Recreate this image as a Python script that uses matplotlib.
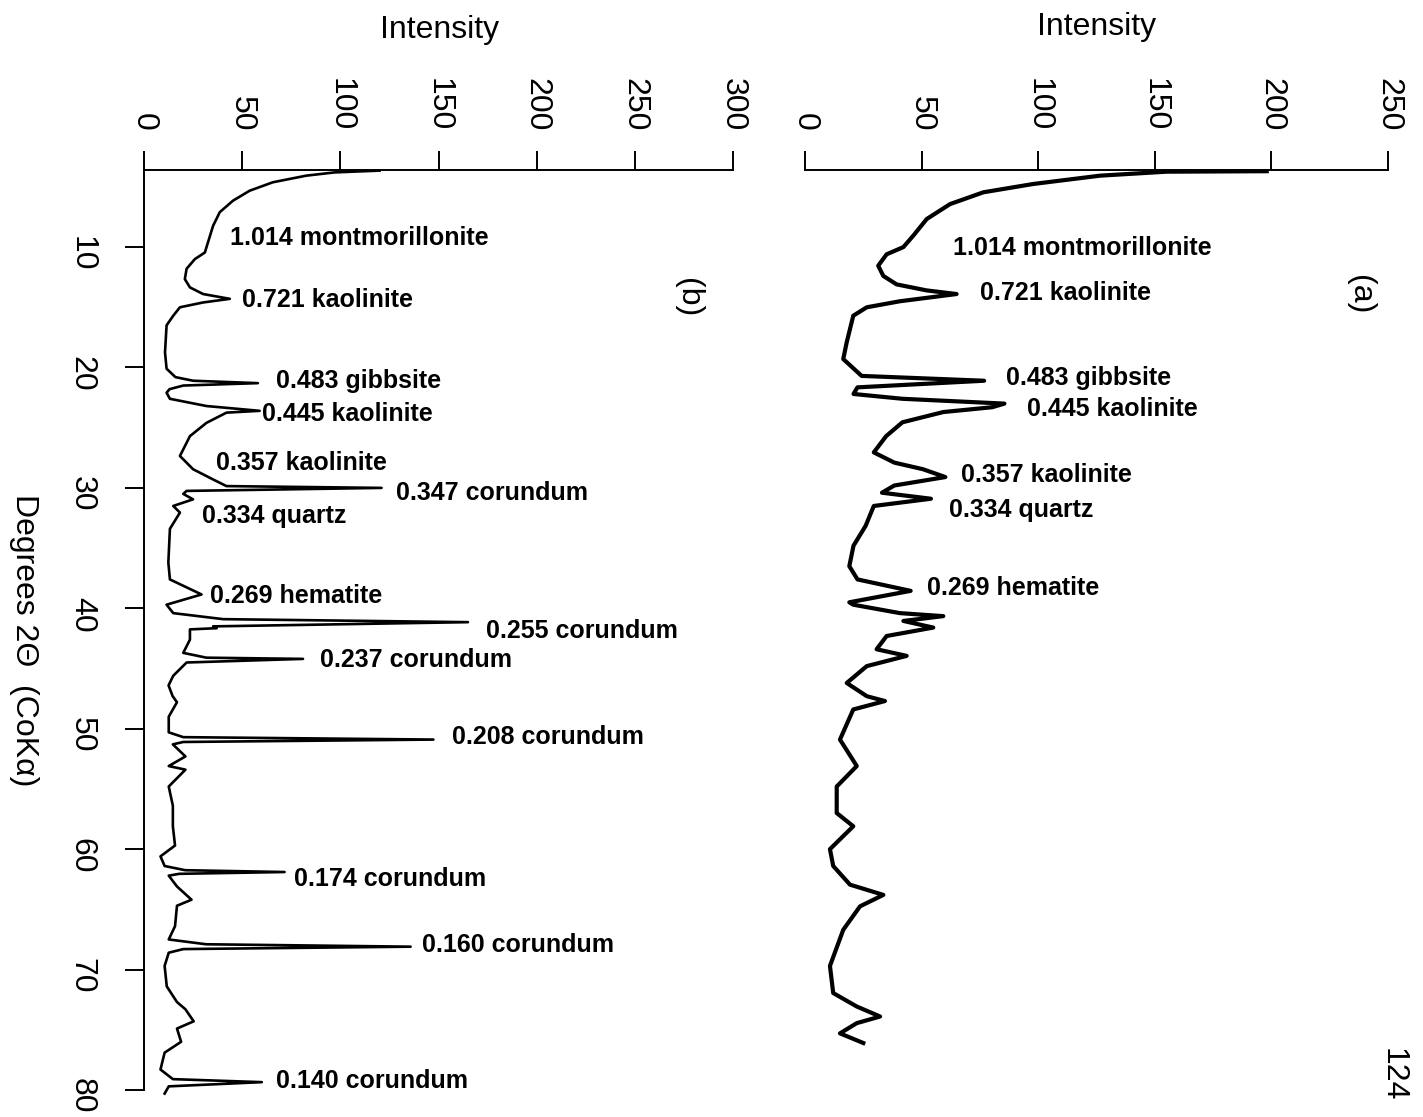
import matplotlib
matplotlib.use("Agg")
import matplotlib.pyplot as plt

plt.rcParams['font.family'] = ['Liberation Sans', 'DejaVu Sans']

# pattern (b): degrees 2-theta and intensity
deg_b = [3.65, 3.8, 4.07, 4.62, 5.32, 6.15, 7.1, 8.23, 9.6, 10.45, 11.0, 11.8, 12.66, 13.35,
         13.9, 14.3, 14.6, 15.0, 15.7, 16.5, 18.75, 20.1, 20.8, 21.1, 21.3, 21.5, 21.8,
         22.1, 22.6, 23.2, 23.6, 23.75, 24.6, 25.7, 27.35, 28.45, 29.3, 29.85, 30.0, 30.25,
         30.5, 30.95, 31.5, 32.05, 33.4, 36.2, 37.6, 38.85, 39.7, 40.4, 40.9, 41.15, 41.5,
         41.65, 41.75, 42.6, 43.7, 44.1, 44.2, 44.5, 45.6, 46.4, 47.3, 47.8, 49.0, 50.3,
         50.7, 50.9, 51.1, 51.3, 52.3, 53.1, 53.4, 54.8, 56.4, 58.1, 59.7, 60.6, 61.4,
         61.75, 61.9, 62.05, 62.2, 63.1, 64.2, 64.7, 66.4, 67.5, 67.9, 68.1, 68.3, 68.6,
         69.7, 71.4, 72.7, 73.3, 74.3, 74.9, 76.0, 76.9, 78.3, 79.1, 79.35, 79.7, 80.3]
int_b = [120, 97, 82.6, 65.6, 53.8, 45.3, 38.6, 35.2, 32.6, 31.0, 25.9, 21.7, 20.8, 23.4,
         30.1, 43.7, 30.1, 18.3, 14.9, 11.5, 10.7, 11.5, 16.0, 25.0, 58.0, 20.0, 13.0,
         11.5, 13.2, 31.8, 58.9, 42.0, 31.8, 23.4, 18.3, 25.0, 35.2, 42.0, 121.0, 21.7,
         20.0, 25.0, 14.9, 18.3, 13.2, 12.4, 13.2, 29.3, 11.5, 14.9, 40.3, 165.0, 35.2,
         37.0, 23.4, 23.4, 20.0, 31.8, 81.0, 21.7, 14.9, 12.5, 14.6, 16.8, 12.6, 12.6,
         20.0, 147.4, 20.0, 14.7, 21.1, 12.6, 21.1, 12.6, 14.7, 14.7, 15.8, 8.4, 10.5,
         21.0, 71.6, 18.0, 12.6, 16.8, 24.2, 16.8, 15.8, 12.6, 31.6, 135.8, 20.0, 12.6,
         10.5, 11.6, 16.8, 21.1, 25.3, 16.8, 18.9, 10.5, 8.4, 14.7, 60.0, 12.6, 10.5]

# pattern (a)
deg_a = [3.7, 3.74, 4.07, 4.76, 5.45, 6.43, 7.67, 9.06, 10.0, 10.6, 11.55, 12.4, 13.1, 13.6,
         13.9, 14.5, 15.0, 15.7, 17.9, 19.3, 20.7, 21.1, 21.65, 22.2, 22.6, 23.0, 23.3,
         23.7, 24.55, 25.7, 27.05, 27.9, 28.45, 29.1, 29.8, 30.4, 30.9, 31.5, 33.15, 34.8,
         36.5, 37.6, 38.55, 39.5, 39.7, 40.4, 40.65, 41.05, 41.6, 42.3, 43.4, 43.95, 44.8,
         46.2, 47.3, 47.7, 48.4, 50.9, 53.1, 54.8, 57.0, 58.1, 60.0, 61.4, 62.95, 63.8,
         64.75, 66.7, 69.7, 71.95, 73.07, 73.9, 74.45, 75.3, 76.1]
int_a = [198, 155, 126.5, 97.9, 76.5, 62.2, 52.2, 46.4, 42.2, 35.0, 31.4, 33.6, 39.3, 52.2,
         65.0, 40.7, 26.5, 20.7, 17.9, 16.4, 24.3, 76.8, 22.5, 20.8, 41.8, 85.5, 80.3,
         59.3, 41.8, 34.8, 29.5, 38.3, 50.6, 60.2, 38.3, 33.0, 54.0, 29.5, 26.0, 20.8,
         19.0, 22.5, 45.3, 19.0, 20.7, 40.7, 59.3, 42.2, 55.0, 35.0, 30.7, 43.6, 26.5,
         17.9, 26.5, 34.3, 20.7, 15.0, 22.2, 13.6, 13.6, 20.7, 10.7, 12.1, 19.3, 33.6,
         23.6, 16.4, 10.7, 12.1, 22.2, 32.2, 22.2, 15.0, 25.0]

labels_b = ["1.014 montmorillonite", "0.721 kaolinite", "0.483 gibbsite", "0.445 kaolinite",
            "0.357 kaolinite", "0.347 corundum", "0.334 quartz", "0.269 hematite",
            "0.255 corundum", "0.237 corundum", "0.208 corundum", "0.174 corundum",
            "0.160 corundum", "0.140 corundum"]
labels_a = ["1.014 montmorillonite", "0.721 kaolinite", "0.483 gibbsite", "0.445 kaolinite",
            "0.357 kaolinite", "0.334 quartz", "0.269 hematite"]

# where the labels sit (intensity, degrees)
pos_b = [(44, 9.25), (50, 14.4), (67, 21.1), (60, 23.9), (36.5, 27.9), (128.5, 30.45),
         (29.5, 32.35), (33.5, 39.0), (174, 41.85), (89.5, 44.3), (157, 50.7),
         (76.5, 62.5), (141.5, 68.0), (67, 79.25)]
pos_a = [(63.5, 10.1), (75, 13.8), (86.2, 20.9), (95.2, 23.45), (66.9, 28.95),
         (61.7, 31.85), (52.3, 38.35)]

fig = plt.figure(figsize=(14.23, 11.17), dpi=100)
ax_b = fig.add_axes([144 / 1423, 0.0242, 589 / 1423, 0.8236])
ax_a = fig.add_axes([805 / 1423, 0.0242, 583 / 1423, 0.8236])

ax_b.plot(int_b, deg_b, color='black', lw=1.9, clip_on=False)
ax_a.plot(int_a, deg_a, color='black', lw=3.0, clip_on=False)

for ax, xmax in [(ax_b, 300), (ax_a, 250)]:
    ax.set_xlim(0, xmax)
    ax.set_ylim(80, 3.6)
    ax.xaxis.tick_top()
    ax.set_xticks(range(0, xmax + 1, 50))
    ax.tick_params(axis='x', direction='out', length=14, width=1.4, pad=14,
                   labelsize=23, labelrotation=-90)
    ax.spines['right'].set_visible(False)
    ax.spines['bottom'].set_visible(False)
    ax.spines['top'].set_linewidth(1.4)
    ax.spines['left'].set_linewidth(1.4)

ax_b.set_yticks(range(10, 81, 10))
ax_b.tick_params(axis='y', direction='out', length=14, width=1.4, pad=20,
                 labelsize=23, labelrotation=-90)
ax_a.spines['left'].set_visible(False)
ax_a.set_yticks([])

for txt, (x, y) in zip(labels_b, pos_b):
    ax_b.text(x, y, txt, fontsize=18, fontweight='bold', ha='left', va='center')
for txt, (x, y) in zip(labels_a, pos_a):
    ax_a.text(x, y, txt, fontsize=18, fontweight='bold', ha='left', va='center')

fig.text(440 / 1423, 1 - 30 / 1117, "Intensity", fontsize=23, ha='center', va='center')
fig.text(1097 / 1423, 1 - 27 / 1117, "Intensity", fontsize=23, ha='center', va='center')
fig.text(24 / 1423, 1 - 640 / 1117, "Degrees 2\u0398  (CoK\u03b1)", fontsize=23,
         rotation=-90, ha='center', va='center')
fig.text(688 / 1423, 1 - 298 / 1117, "(b)", fontsize=23, rotation=-90, ha='center', va='center')
fig.text(1360 / 1423, 1 - 295 / 1117, "(a)", fontsize=23, rotation=-90, ha='center', va='center')
fig.text(1393 / 1423, 1 - 1075 / 1117, "124", fontsize=23, rotation=-90, ha='center', va='center')

fig.savefig("out.png", dpi=100)
